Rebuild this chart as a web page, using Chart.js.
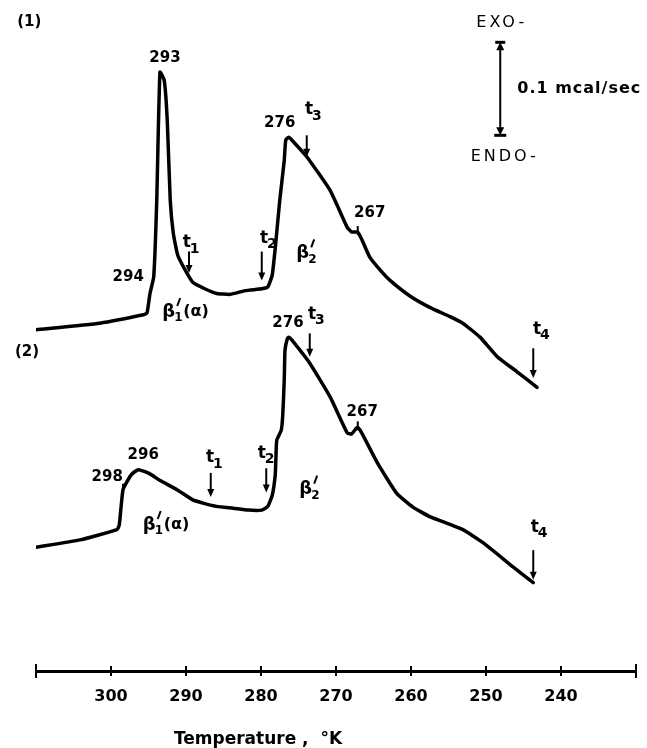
<!DOCTYPE html>
<html>
<head>
<meta charset="utf-8">
<script src="https://cdn.jsdelivr.net/npm/chart.js@4/dist/chart.umd.min.js"></script>
<style>
  body { margin: 0; background: #fff; }
  #wrap { width: 647px; height: 748px; }
</style>
</head>
<body>
<div id="wrap"><canvas id="dsc" width="647" height="748"></canvas></div>
<script>
// thermogram (1): temperature (K) and heat flow (units of 0.01 mcal/sec, arbitrary zero)
var temps1 = [310, 301.5, 295.7, 295.2, 294.8, 294.3, 293.9, 293.47, 292.9, 292.5, 292.1, 291.7, 291.1, 290.1, 289.1, 287.5, 285.9, 284.1, 282.1, 279.9, 279.1, 278.5, 278.0, 277.5, 276.9, 276.7, 276.3, 275.9, 273.9, 270.8, 268.5, 267.9, 267.1, 266.5, 265.5, 264.1, 262.8, 260.1, 257.5, 254.8, 253.1, 250.8, 248.5, 245.9, 243.2];
var flow1  = [36.7, 37.4, 38.3, 38.5, 40.6, 42.4, 50.6, 64.4, 63.5, 59.2, 50.6, 47.1, 44.7, 43.1, 41.8, 41.1, 40.6, 40.5, 40.9, 41.1, 41.3, 42.6, 46.3, 50.6, 54.9, 57.1, 57.4, 57.1, 55.3, 51.7, 47.7, 47.2, 47.2, 46.3, 44.5, 43.1, 42.0, 40.3, 39.1, 38.1, 37.4, 35.9, 33.8, 32.2, 30.5];

// thermogram (2)
var temps2 = [310, 304.1, 299.2, 298.9, 298.7, 298.4, 297.9, 297.3, 296.5, 296.1, 294.8, 293.5, 291.2, 289.1, 287.5, 285.9, 283.7, 281.7, 279.9, 279.1, 278.5, 278.1, 278.0, 277.9, 277.3, 277.1, 276.9, 276.8, 276.5, 276.3, 275.9, 273.5, 270.8, 268.5, 267.9, 267.3, 267.1, 266.5, 264.5, 261.9, 259.7, 257.5, 253.1, 250.4, 246.4, 243.7];
var flow2  = [13.3, 14.1, 15.2, 15.7, 17.3, 19.5, 20.3, 21.1, 21.6, 21.6, 21.2, 20.5, 19.5, 18.4, 18.0, 17.7, 17.5, 17.3, 17.3, 17.7, 18.9, 21.1, 23.2, 24.8, 25.9, 27.5, 31.3, 34.5, 35.7, 35.9, 35.6, 33.1, 29.5, 25.6, 25.5, 26.1, 26.2, 25.5, 22.4, 19.1, 17.6, 16.6, 15.2, 13.8, 11.2, 9.5];

var tempMin = 230, tempMax = 310, tempStep = 10;
var unlabelledTicks = [230, 310];

// text annotations: [text, T, value]
var numberLabels = [
  ['(1)', 310.9, 69.8], ['293', 292.8, 65.9], ['294', 297.7, 42.4], ['276', 277.5, 58.9], ['267', 265.5, 49.2],
  ['(2)', 311.2, 34.3], ['298', 300.5, 20.9], ['296', 295.7, 23.2], ['276', 276.4, 37.4], ['267', 266.5, 27.8]
];
var legendLabels = [['EXO-', 248.1, 69.7], ['ENDO-', 247.7, 55.3]];
// t labels: [subscript, T, value]
var tLabels = [
  ['1', 289.5, 45.8], ['2', 279.2, 46.3], ['3', 273.2, 60.1], ['4', 242.8, 36.5],
  ['1', 286.4, 22.7], ['2', 279.5, 23.2], ['3', 272.8, 38.1], ['4', 243.1, 15.2]
];
// down arrows: [T, from, to]
var arrows = [
  [289.6, 45.1, 42.8], [279.9, 45.1, 42.0], [273.9, 57.6, 55.3], [243.7, 34.7, 31.5],
  [286.7, 21.3, 18.7], [279.3, 21.8, 19.2], [273.5, 36.3, 33.8], [243.7, 13.0, 9.8]
];
// small marks on the traces: [T, value]
var peakMarks = [[267.1, 47.2], [294.3, 42.4], [267.1, 26.2], [298.4, 19.5]];
// phase labels: [subscript, suffix, T, value]
var phaseLabels = [
  ['1', '(α)', 289.9, 38.6], ['2', '', 273.9, 44.9],
  ['1', '(α)', 292.5, 15.7], ['2', '', 273.5, 19.5]
];
// scale bar 0.1 mcal/sec
var barT = 248.1, barTop = 67.6, barBottom = 57.6;

var annotate = {
  id: 'annotate',
  afterDraw: function (chart) {
    var ctx = chart.ctx, xs = chart.scales.x, ys = chart.scales.y;
    var X = function (t) { return xs.getPixelForValue(t); };
    var Y = function (v) { return ys.getPixelForValue(v); };
    var font = '"DejaVu Sans", sans-serif';
    ctx.save();
    ctx.fillStyle = '#000';
    ctx.strokeStyle = '#000';
    ctx.textBaseline = 'middle';

    // axis tick marks crossing the line
    ctx.lineWidth = 2;
    xs.ticks.forEach(function (tk) {
      var px = X(tk.value), by = xs.top;
      var h = unlabelledTicks.indexOf(tk.value) >= 0 ? 7 : 5;
      ctx.beginPath(); ctx.moveTo(px, by - h); ctx.lineTo(px, by + h); ctx.stroke();
    });

    ctx.lineWidth = 2;
    peakMarks.forEach(function (m) {
      var x = X(m[0]), y = Y(m[1]);
      ctx.beginPath(); ctx.moveTo(x, y - 6); ctx.lineTo(x, y + 3); ctx.stroke();
    });

    ctx.textAlign = 'center';
    ctx.font = 'bold 15px ' + font;
    numberLabels.forEach(function (l) { ctx.fillText(l[0], X(l[1]), Y(l[2])); });

    ctx.font = '16px ' + font;
    ctx.letterSpacing = '3px';
    legendLabels.forEach(function (l) { ctx.fillText(l[0], X(l[1]) + 1.5, Y(l[2])); });
    ctx.letterSpacing = '0px';

    tLabels.forEach(function (l) {
      var x = X(l[1]), y = Y(l[2]);
      ctx.textAlign = 'left';
      ctx.font = 'bold 17px ' + font;
      ctx.fillText('t', x - 7, y - 2);
      ctx.font = 'bold 14px ' + font;
      ctx.fillText(l[0], x, y + 4);
    });

    arrows.forEach(function (a) {
      var x = X(a[0]), y0 = Y(a[1]), y1 = Y(a[2]);
      ctx.lineWidth = 2;
      ctx.beginPath(); ctx.moveTo(x, y0); ctx.lineTo(x, y1 - 6); ctx.stroke();
      ctx.beginPath(); ctx.moveTo(x - 3.5, y1 - 8); ctx.lineTo(x + 3.5, y1 - 8); ctx.lineTo(x, y1); ctx.closePath(); ctx.fill();
    });

    phaseLabels.forEach(function (l) {
      var x = X(l[2]), y = Y(l[3]);
      ctx.font = 'bold 18px ' + font;
      var bw = ctx.measureText('β').width;
      var total = bw + 8 + (l[1] ? 28 : 0);
      var x0 = x - total / 2;
      ctx.textAlign = 'left';
      ctx.fillText('β', x0, y);
      // prime
      ctx.lineWidth = 2;
      ctx.beginPath(); ctx.moveTo(x0 + bw + 5, y - 14); ctx.lineTo(x0 + bw + 2, y - 6); ctx.stroke();
      ctx.font = 'bold 12px ' + font;
      ctx.fillText(l[0], x0 + bw - 1, y + 6);
      if (l[1]) {
        ctx.font = 'bold 16px ' + font;
        ctx.fillText(l[1], x0 + bw + 8, y);
      }
    });

    // scale bar
    var bx = X(barT), bt = Y(barTop), bb = Y(barBottom);
    ctx.lineWidth = 2;
    ctx.beginPath(); ctx.moveTo(bx, bt + 6); ctx.lineTo(bx, bb - 6); ctx.stroke();
    ctx.beginPath(); ctx.moveTo(bx - 4, bt + 8); ctx.lineTo(bx + 4, bt + 8); ctx.lineTo(bx, bt); ctx.closePath(); ctx.fill();
    ctx.beginPath(); ctx.moveTo(bx - 4, bb - 8); ctx.lineTo(bx + 4, bb - 8); ctx.lineTo(bx, bb); ctx.closePath(); ctx.fill();
    ctx.lineWidth = 3;
    ctx.beginPath(); ctx.moveTo(bx - 5, bt); ctx.lineTo(bx + 5, bt); ctx.stroke();
    ctx.beginPath(); ctx.moveTo(bx - 6, bb); ctx.lineTo(bx + 6, bb); ctx.stroke();
    ctx.textAlign = 'left';
    ctx.font = 'bold 16px ' + font;
    ctx.letterSpacing = '1px';
    ctx.fillText('0.1 mcal/sec', bx + 17, (bt + bb) / 2);
    ctx.letterSpacing = '0px';

    // axis title
    ctx.textAlign = 'center';
    ctx.font = 'bold 17px ' + font;
    ctx.fillText('Temperature ,  °K', X(280.4), xs.bottom - 8);
    ctx.restore();
  }
};

function toPoints(ts, vs) {
  return ts.map(function (t, i) { return { x: t, y: vs[i] }; });
}

new Chart(document.getElementById('dsc'), {
  type: 'line',
  data: {
    datasets: [
      { label: '(1)', data: toPoints(temps1, flow1) },
      { label: '(2)', data: toPoints(temps2, flow2) }
    ]
  },
  options: {
    responsive: false,
    animation: false,
    layout: { padding: { left: 36, right: 11, top: 10.7, bottom: 0 } },
    elements: {
      point: { radius: 0 },
      line: { borderColor: '#000', borderWidth: 3.5, tension: 0.15, borderCapStyle: 'round', borderJoinStyle: 'round', fill: false }
    },
    plugins: { legend: { display: false }, tooltip: { enabled: false } },
    scales: {
      x: {
        type: 'linear', reverse: true, min: tempMin, max: tempMax,
        afterFit: function (s) { s.height = 77; },
        border: { display: true, color: '#000', width: 3 },
        grid: { display: true, drawOnChartArea: false, drawTicks: true, tickLength: 5, color: '#000', lineWidth: 2 },
        ticks: {
          stepSize: tempStep, padding: 11, color: '#000', maxRotation: 0,
          font: { family: '"DejaVu Sans", sans-serif', size: 16, weight: 'bold' },
          callback: function (v) { return unlabelledTicks.indexOf(v) >= 0 ? '' : v; }
        }
      },
      y: { type: 'linear', display: false, min: 0, max: 71 }
    }
  },
  plugins: [annotate]
});
</script>
</body>
</html>
